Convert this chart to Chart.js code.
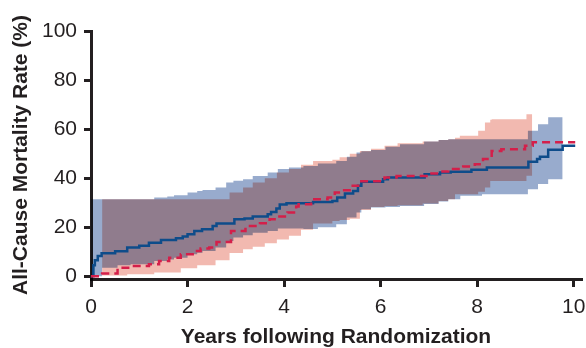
<!DOCTYPE html>
<html>
<head>
<meta charset="utf-8">
<script src="https://cdn.jsdelivr.net/npm/chart.js@4"></script>
<style>
  html, body { margin: 0; padding: 0; background: #fff; }
  #wrap { width: 586px; height: 348px; }
</style>
</head>
<body>
<div id="wrap"><canvas id="chart"></canvas></div>
<script>
// axis ticks
const xTicks = [0, 2, 4, 6, 8, 10];
const yTicks = [0, 20, 40, 60, 80, 100];

// blue arm (solid): step times in years, mortality in %
const blueTimes = [0, 0.05, 0.08, 0.14, 0.22, 0.5, 0.75, 1.0, 1.2, 1.45, 1.76, 1.9, 2.0, 2.14, 2.3,
  2.52, 2.6, 2.97, 3.18, 3.35, 3.66, 3.73, 3.84, 3.91, 4.05, 4.6, 5.0, 5.1, 5.26, 5.43,
  5.53, 5.6, 6.05, 6.15, 6.91, 7.23, 7.45, 7.88, 8.2, 9.06, 9.24, 9.3, 9.47, 9.77, 10.03];
const blueRate = [0, 4.5, 6.5, 8.3, 9.4, 10.2, 11.7, 12.5, 13.7, 14.8, 15.5, 16.2, 17.1, 18.5, 19.2,
  20.5, 21.5, 23.3, 23.6, 24.4, 25.3, 26.2, 27.6, 29.3, 29.8, 30.3, 30.7, 32.1, 33.8, 34.8,
  36.9, 38.5, 39.6, 40.3, 41.6, 42.3, 42.6, 43.4, 44.4, 46.7, 47.8, 48.7, 51.6, 53.2, 53.2];

// red arm (dashed)
const redTimes = [0, 0.23, 0.55, 0.89, 1.2, 1.41, 1.62, 1.86, 2.14, 2.27, 2.45, 2.6, 2.9, 3.2, 3.5,
  3.7, 3.84, 4.07, 4.25, 4.3, 4.56, 4.9, 5.05, 5.19, 5.39, 5.57, 6.08, 6.33, 6.95, 7.23,
  7.4, 7.71, 7.95, 8.12, 8.3, 8.5, 8.99, 9.15, 10.03];
const redRate = [0, 1.1, 3.5, 4.2, 4.9, 6.2, 7.6, 9.0, 10.3, 11.3, 11.7, 14.0, 18.5, 20.5, 21.6,
  23.3, 24.4, 26.0, 28.5, 29.4, 31.4, 32.1, 34.2, 35.1, 36.9, 38.7, 40.3, 40.9, 41.9, 42.7,
  43.7, 44.8, 45.7, 47.8, 51.1, 51.8, 53.2, 54.6, 54.6];

// confidence bands
const blueBandTimes = [0, 0.23, 0.55, 0.82, 1.31, 1.58, 1.72, 2.0, 2.2, 2.31, 2.58, 2.8, 2.95, 3.15, 3.35,
  3.66, 3.87, 4.1, 4.4, 4.7, 5.08, 5.3, 5.5, 5.6, 5.8, 6.1, 6.4, 6.9, 7.2, 7.4,
  7.65, 8.1, 9.05, 9.26, 9.47, 9.77];
const blueLower = [0, 3.5, 4.5, 4.9, 6.2, 6.9, 7.6, 9.0, 9.6, 10.3, 11.7, 14.4, 15.8, 16.7, 17.8,
  18.5, 19.5, 19.5, 19.3, 20.0, 21.2, 24.0, 26.0, 27.3, 28.0, 28.3, 28.7, 29.5, 30.5, 31.4,
  32.8, 33.5, 35.5, 37.6, 39.6, 39.6];
const blueUpper = [31.4, 31.4, 31.4, 31.4, 32.1, 32.5, 33.0, 34.2, 34.8, 35.2, 36.2, 38.2, 39.0, 39.6, 40.9,
  42.3, 43.7, 44.4, 45.0, 46.0, 47.0, 48.7, 50.5, 51.0, 51.5, 52.8, 53.8, 55.0, 55.6, 55.9,
  55.9, 55.9, 59.3, 62.0, 64.8, 64.8];

const redBandTimes = [0.23, 0.75, 1.31, 1.86, 2.2, 2.58, 2.87, 3.15, 3.35, 3.6, 3.85, 4.1, 4.35, 4.6, 5.0,
  5.15, 5.36, 5.57, 5.8, 6.08, 6.35, 6.87, 7.2, 7.4, 7.54, 7.64, 8.02, 8.16, 8.27, 8.3,
  9.02, 9.14];
const redLower = [0.3, 0.8, 1.5, 3.3, 4.5, 6.5, 9.5, 11.0, 12.0, 13.5, 15.0, 16.5, 19.0, 21.5, 22.5,
  23.0, 23.5, 27.0, 28.3, 28.7, 29.0, 29.7, 30.7, 31.4, 33.5, 33.5, 34.5, 36.2, 38.9, 38.9,
  41.0, 41.0];
const redUpper = [31.4, 31.4, 31.4, 31.4, 31.4, 31.4, 34.2, 36.2, 38.2, 40.0, 42.3, 43.7, 45.5, 47.0, 47.5,
  48.5, 50.0, 51.1, 52.0, 53.2, 54.2, 55.0, 55.6, 55.9, 56.5, 57.3, 59.3, 62.7, 63.8, 64.0,
  66.1, 66.1];

const ink = '#231f20';
const fontFamily = '"Liberation Sans", Arial, Helvetica, sans-serif';

function pts(xs, ys) {
  return xs.map((x, i) => ({ x: x, y: ys[i] }));
}

// overlapping bands look multiplied in the original, so fill them in multiply mode
const multiplyBands = {
  id: 'multiplyBands',
  beforeDraw(chart) { chart.ctx.globalCompositeOperation = 'multiply'; },
  beforeDatasetsDraw(chart) { chart.ctx.globalCompositeOperation = 'source-over'; }
};

function bandSet(data, fill, color) {
  return {
    data: data, stepped: true, fill: fill, backgroundColor: color,
    borderWidth: 0, pointRadius: 0, order: 2
  };
}

new Chart(document.getElementById('chart'), {
  type: 'line',
  data: {
    datasets: [
      bandSet(pts(blueBandTimes, blueLower), false, '#98abcd'),
      bandSet(pts(blueBandTimes, blueUpper), '-1', '#98abcd'),
      bandSet(pts(redBandTimes, redLower), false, '#f2b9b0'),
      bandSet(pts(redBandTimes, redUpper), '-1', '#f2b9b0'),
      {
        data: pts(blueTimes, blueRate), stepped: true, fill: false,
        borderColor: '#0e4c8a', borderWidth: 2.5, pointRadius: 0, order: 1
      },
      {
        data: pts(redTimes, redRate), stepped: true, fill: false,
        borderColor: '#d41f4a', borderWidth: 2.5, borderDash: [8, 5], pointRadius: 0, order: 0
      }
    ]
  },
  options: {
    responsive: true,
    maintainAspectRatio: false,
    animation: false,
    layout: { padding: { top: 31, right: 5, bottom: 0, left: 0 } },
    plugins: {
      legend: { display: false },
      tooltip: { enabled: false },
      filler: { drawTime: 'beforeDatasetsDraw' }
    },
    scales: {
      x: {
        type: 'linear',
        min: 0,
        max: 10.15,
        afterBuildTicks: s => { s.ticks = xTicks.map(v => ({ value: v })); },
        afterFit: s => { s.height = 69; s.paddingLeft = 0; s.paddingRight = 0; },
        grid: { drawOnChartArea: false, drawTicks: true, tickLength: 8, color: ink, lineWidth: 3 },
        border: { color: ink, width: 3 },
        ticks: { color: ink, font: { family: fontFamily, size: 21 }, padding: 8, maxRotation: 0, autoSkip: false },
        title: {
          display: true, text: 'Years following Randomization', color: ink,
          font: { family: fontFamily, size: 21, weight: 'bold', lineHeight: 1.2 },
          padding: { top: 0, bottom: -2 }
        }
      },
      y: {
        type: 'linear',
        min: -1.1,
        max: 100,
        afterBuildTicks: s => { s.ticks = yTicks.map(v => ({ value: v })); },
        afterFit: s => { s.width = 91; },
        grid: { drawOnChartArea: false, drawTicks: true, tickLength: 7, color: ink, lineWidth: 3 },
        border: { color: ink, width: 3 },
        ticks: { color: ink, font: { family: fontFamily, size: 21 }, padding: 7 },
        title: {
          display: true, text: 'All-Cause Mortality Rate (%)', color: ink,
          font: { family: fontFamily, size: 21, weight: 'bold', lineHeight: 1.2 },
          padding: { top: 9, bottom: 0 }
        }
      }
    }
  },
  plugins: [multiplyBands]
});
</script>
</body>
</html>
